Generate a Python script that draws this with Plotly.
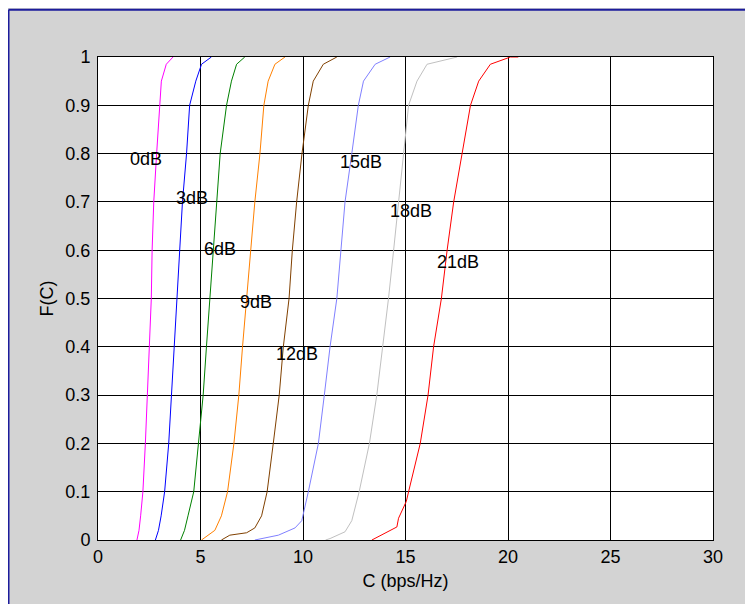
import plotly.graph_objects as go

snr_labels = ["0dB", "3dB", "6dB", "9dB", "12dB", "15dB", "18dB", "21dB"]

f_0dB = [0, 0.02, 0.05, 0.1, 0.2, 0.3, 0.4, 0.5, 0.6, 0.7, 0.8, 0.9, 0.95, 0.985, 1.0]
c_0dB = [1.90, 2.00, 2.08, 2.19, 2.31, 2.40, 2.52, 2.60, 2.64, 2.72, 2.86, 3.02, 3.09, 3.33, 3.66]

f_3dB = [0, 0.02, 0.05, 0.1, 0.2, 0.3, 0.4, 0.5, 0.6, 0.7, 0.8, 0.9, 0.95, 0.985, 1.0]
c_3dB = [2.80, 2.95, 3.08, 3.25, 3.45, 3.58, 3.72, 3.87, 3.97, 4.12, 4.32, 4.47, 4.77, 5.05, 5.53]

f_6dB = [0, 0.02, 0.05, 0.1, 0.2, 0.3, 0.4, 0.5, 0.6, 0.7, 0.8, 0.9, 0.95, 0.985, 1.0]
c_6dB = [4.03, 4.22, 4.39, 4.67, 4.90, 5.13, 5.29, 5.45, 5.62, 5.80, 5.96, 6.27, 6.51, 6.76, 7.16]

f_9dB = [0, 0.01, 0.02, 0.05, 0.1, 0.2, 0.3, 0.4, 0.5, 0.6, 0.7, 0.8, 0.9, 0.95, 0.985, 1.0]
c_9dB = [5.05, 5.40, 5.70, 6.02, 6.32, 6.63, 6.87, 7.05, 7.25, 7.44, 7.65, 7.90, 8.09, 8.30, 8.63, 9.12]

f_12dB = [0, 0.01, 0.015, 0.025, 0.05, 0.1, 0.2, 0.3, 0.4, 0.5, 0.6, 0.7, 0.8, 0.9, 0.95, 0.985, 1.0]
c_12dB = [6.02, 6.43, 7.25, 7.65, 7.98, 8.25, 8.55, 8.84, 9.04, 9.32, 9.48, 9.69, 9.95, 10.26, 10.50, 10.99, 11.65]

f_15dB = [0, 0.01, 0.025, 0.04, 0.1, 0.2, 0.3, 0.4, 0.5, 0.6, 0.7, 0.8, 0.9, 0.95, 0.985, 1.0]
c_15dB = [7.65, 8.80, 9.61, 9.94, 10.26, 10.75, 11.04, 11.32, 11.65, 11.84, 12.05, 12.38, 12.70, 12.95, 13.52, 14.25]

f_18dB = [0, 0.003, 0.017, 0.04, 0.1, 0.2, 0.3, 0.4, 0.5, 0.6, 0.7, 0.8, 0.9, 0.95, 0.985, 1.0]
c_18dB = [11.10, 11.32, 12.05, 12.38, 12.74, 13.24, 13.60, 13.90, 14.17, 14.42, 14.66, 14.90, 15.15, 15.56, 16.05, 17.52]

f_21dB = [0, 0.005, 0.016, 0.027, 0.045, 0.08, 0.1, 0.2, 0.3, 0.4, 0.5, 0.6, 0.7, 0.8, 0.9, 0.95, 0.985, 1.0, 1.0]
c_21dB = [13.36, 13.60, 14.09, 14.58, 14.66, 15.04, 15.15, 15.72, 16.10, 16.37, 16.75, 17.03, 17.35, 17.76, 18.17, 18.57, 19.14, 20.12, 20.50]

# label positions (x in bps/Hz, y in F)
label_x = [2.32, 4.57, 5.94, 7.70, 9.71, 12.84, 15.28, 17.58]
label_y = [0.789, 0.708, 0.602, 0.493, 0.385, 0.783, 0.681, 0.576]

x_ticks = [0, 5, 10, 15, 20, 25, 30]
y_ticks = [0, 0.1, 0.2, 0.3, 0.4, 0.5, 0.6, 0.7, 0.8, 0.9, 1]
y_ticktext = ["0", "0.1", "0.2", "0.3", "0.4", "0.5", "0.6", "0.7", "0.8", "0.9", "1"]

curves = [(c_0dB, f_0dB), (c_3dB, f_3dB), (c_6dB, f_6dB), (c_9dB, f_9dB),
          (c_12dB, f_12dB), (c_15dB, f_15dB), (c_18dB, f_18dB), (c_21dB, f_21dB)]
colors = ["#ff00ff", "#0000ff", "#008000", "#ff8000",
          "#804000", "#8080ff", "#c0c0c0", "#ff0000"]

FONT = "Liberation Sans, Arial, sans-serif"

fig = go.Figure()
for (cx, fy), name, col in zip(curves, snr_labels, colors):
    fig.add_trace(go.Scatter(x=cx, y=fy, mode="lines", name=name,
                             line=dict(color=col, width=1), showlegend=False))

for name, lx, ly in zip(snr_labels, label_x, label_y):
    fig.add_annotation(x=lx, y=ly, text=name, showarrow=False,
                       font=dict(family=FONT, size=18, color="black"))

# figure border (dark blue), as in the source window
border = "#1c1c9c"
fig.add_shape(type="line", xref="paper", yref="paper", x0=-0.1455, x1=-0.1455,
              y0=-0.3, y1=1.098, line=dict(color=border, width=2))
fig.add_shape(type="line", xref="paper", yref="paper", x0=-0.1455, x1=1.3,
              y0=1.098, y1=1.098, line=dict(color=border, width=2))

axis_common = dict(showgrid=True, gridcolor="black", gridwidth=1,
                   showline=True, linecolor="black", linewidth=1, mirror=True,
                   zeroline=False, ticks="", tickfont=dict(family=FONT, size=18, color="black"))

fig.update_xaxes(range=[0, 30], tickvals=x_ticks, ticklabelstandoff=0,
                 title=dict(text="C (bps/Hz)", font=dict(family=FONT, size=18, color="black"),
                            standoff=8),
                 **axis_common)
fig.update_yaxes(range=[0, 1], tickvals=y_ticks, ticktext=y_ticktext, ticklabelstandoff=3,
                 title=dict(text="F(C)", font=dict(family=FONT, size=18, color="black"),
                            standoff=7),
                 **axis_common)

fig.update_layout(width=753, height=604,
                  margin=dict(l=90, r=48, t=49, b=72),
                  paper_bgcolor="#d3d3d3", plot_bgcolor="white",
                  font=dict(family=FONT, size=18, color="black"))

fig.write_html("out.html")
